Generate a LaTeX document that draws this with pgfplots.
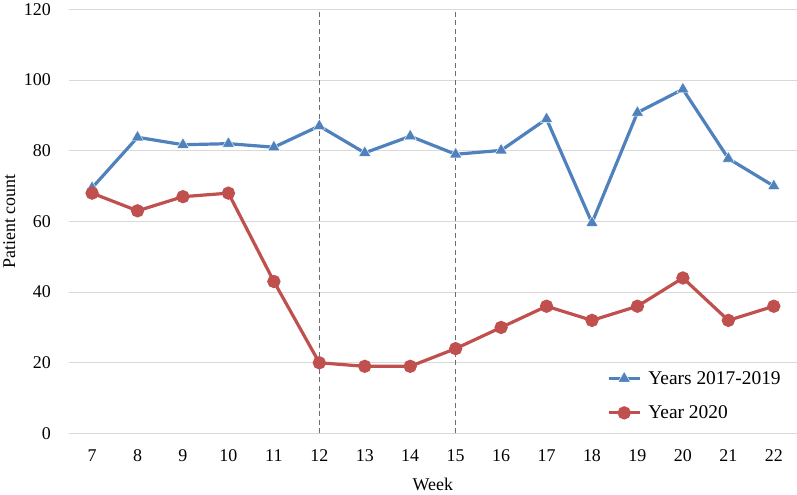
\documentclass[border=0pt]{standalone}
\usepackage{fontspec}
\setmainfont{Liberation Serif}
\usepackage{pgfplots}
\pgfplotsset{compat=1.18}
\definecolor{cblue}{HTML}{4F81BD}
\definecolor{cred}{HTML}{C0504D}
\definecolor{cgrid}{HTML}{D9D9D9}
\begin{document}
\begin{tikzpicture}[x=1bp,y=1bp]
\begin{axis}[
  scale only axis,
  width=727bp, height=424bp,
  xmin=6.5, xmax=22.5,
  ymin=0, ymax=120,
  xtick={7,...,22},
  ytick={0,20,...,120},
  axis line style={draw=none},
  major tick length=0pt,
  ymajorgrids,
  grid style={cgrid, line width=1bp},
  tick label style={font=\fontsize{18}{21}\selectfont},
  label style={font=\fontsize{18}{21}\selectfont},
  /pgf/number format/assume math mode=true,
  xticklabel style={anchor=center, yshift=-22bp},
  yticklabel style={anchor=east, xshift=-15bp},
  xlabel={Week},
  ylabel={Patient count},
  xlabel style={at={(rel axis cs:0.5,0)}, anchor=center, yshift=-51bp},
  ylabel style={at={(rel axis cs:0,0.5)}, anchor=center, yshift=60bp},
  legend style={at={(rel axis cs:0.731,0.166)}, anchor=north west, draw=none, fill=white,
    font=\fontsize{19.5}{22}\selectfont, row sep=16bp, column sep=5bp, inner sep=6bp},
  legend cell align=left,
  legend image code/.code={
    \draw[#1, mark=none] (0bp,0bp) -- (31bp,0bp);
    \draw[#1, only marks] plot coordinates {(15.5bp,0bp)};
  },
  clip=false,
]
\draw[gray!85!black, dash pattern=on 5bp off 3.5bp, line width=1.1bp] (axis cs:12,0) -- (axis cs:12,120);
\draw[gray!85!black, dash pattern=on 5bp off 3.5bp, line width=1.1bp] (axis cs:15,0) -- (axis cs:15,120);
\addplot[cblue, line width=3.2bp, mark=triangle*, mark size=7bp, mark options={solid, fill=cblue, draw=white, line width=0.4bp}] coordinates {
(7,69.5) (8,83.8) (9,81.7) (10,82) (11,81) (12,87) (13,79.4) (14,84.1) (15,79) (16,80.1) (17,89) (18,59.6) (19,90.8) (20,97.4) (21,77.8) (22,70)
};
\addlegendentry{Years 2017-2019}
\addplot[cred, line width=3.2bp, mark=*, mark size=5bp, mark options={solid, fill=cred, draw=cred}] coordinates {
(7,68) (8,63) (9,67) (10,68) (11,43) (12,20) (13,19) (14,19) (15,24) (16,30) (17,36) (18,32) (19,36) (20,44) (21,32) (22,36)
};
\addlegendentry{Year 2020}
\end{axis}
\end{tikzpicture}
\end{document}
